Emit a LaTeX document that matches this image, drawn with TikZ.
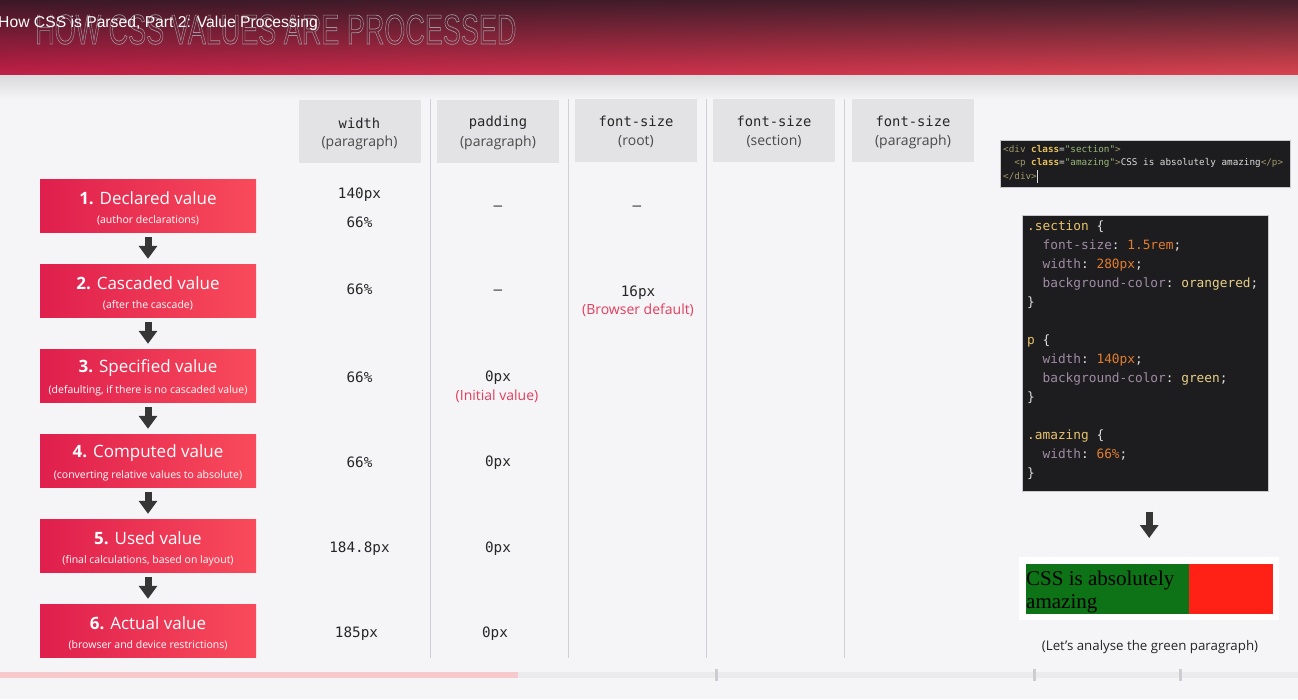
\documentclass[tikz,border=0pt]{standalone}
\usepackage{fontspec}
\setmainfont{Open Sans}
\setmonofont{DejaVu Sans Mono}
\newfontfamily\arialf{Liberation Sans}
\newfontfamily\timesf{Liberation Serif}
\usetikzlibrary{arrows.meta,shadings,fadings}

\definecolor{bg}{HTML}{F5F4F7}
\definecolor{hul}{HTML}{3A1826}
\definecolor{hur}{HTML}{46202C}
\definecolor{hll}{HTML}{C21F47}
\definecolor{hlr}{HTML}{D8434F}
\definecolor{bandtop}{HTML}{DAD9DC}
\definecolor{hdrcell}{HTML}{E3E2E5}
\definecolor{sepc}{HTML}{D0CFD3}
\definecolor{valtxt}{HTML}{262626}
\definecolor{hdrsub}{HTML}{4A4A4A}
\definecolor{redtxt}{HTML}{E33E5C}
\definecolor{boxl}{HTML}{DF1F4D}
\definecolor{boxr}{HTML}{F94B5B}
\definecolor{arrowc}{HTML}{363636}
\definecolor{codebg}{HTML}{1D1D1F}
\definecolor{codeborder}{HTML}{C8C8CC}
\definecolor{tagc}{HTML}{A09868}
\definecolor{attrc}{HTML}{E8C05C}
\definecolor{strc}{HTML}{98B878}
\definecolor{csel}{HTML}{E8C36A}
\definecolor{cprop}{HTML}{A08BA5}
\definecolor{cnum}{HTML}{E27D2F}
\definecolor{ckw}{HTML}{E9CF86}
\definecolor{cwhite}{HTML}{DDDDDD}
\definecolor{resgreen}{HTML}{0E7317}
\definecolor{resred}{HTML}{FF2116}
\definecolor{pbpink}{HTML}{F6C9CD}
\definecolor{pbgrey}{HTML}{EBEAEC}
\definecolor{tickc}{HTML}{CDCCD0}

\newcommand\outlinetext[1]{\special{pdf:literal direct 1 Tr 0.7 w 0.62 0.60 0.63 RG}#1\special{pdf:literal direct 0 Tr}}

\tikzset{
 redbox/.style={minimum width=216pt, minimum height=53.5pt, inner sep=0pt, left color=boxl, right color=boxr, draw=none},
 boxtitle/.style={inner sep=0pt, text=white, font=\fontsize{17}{20}\selectfont},
 boxsub/.style={inner sep=0pt, text=white, font=\fontsize{10.5}{12}\selectfont},
 flowarrow/.style={draw=arrowc, line width=7pt, -{Triangle[width=18pt,length=13pt]}},
 colhead/.style={fill=hdrcell, minimum width=122pt, minimum height=63pt, inner sep=0pt},
 headmono/.style={inner sep=0pt, font=\ttfamily\fontsize{13.8}{16}\selectfont, text=valtxt},
 headsans/.style={inner sep=0pt, font=\fontsize{14}{16}\selectfont, text=hdrsub},
 val/.style={inner sep=0pt, font=\ttfamily\fontsize{14.3}{16}\selectfont, text=valtxt},
 note/.style={inner sep=0pt, font=\fontsize{14}{16}\selectfont, text=redtxt},
 codeA/.style={anchor=base west, inner sep=0pt, font=\ttfamily\fontsize{9.3}{11}\selectfont, text=cwhite},
 codeB/.style={anchor=base west, inner sep=0pt, font=\ttfamily\fontsize{12.8}{15}\selectfont, text=cwhite},
 sepline/.style={draw=sepc, line width=1pt},
}

\begin{document}
\begin{tikzpicture}[x=1pt,y=-1pt]
\useasboundingbox (0,0) rectangle (1298,699);
\fill[bg] (0,0) rectangle (1298,699);

% header
\shade[upper left=hul, upper right=hur, lower left=hll, lower right=hlr] (0,0) rectangle (1298,75);
\shade[top color=bandtop, bottom color=bg] (0,75) rectangle (1298,100);
\node[anchor=base west, inner sep=0pt] (big) at (35,44) {\scalebox{0.643}[1]{\arialf\fontsize{42}{44}\selectfont\outlinetext{HOW CSS VALUES ARE PROCESSED}}};
\node[anchor=base west, inner sep=0pt, text=white, font=\arialf\fontsize{15.7}{18}\selectfont] (ttl) at (-2,27) {How CSS is Parsed, Part 2: Value Processing};

% flow boxes
\node[redbox] (b1) at (148,205.75) {};
\node[boxtitle] (t1) at (148,198) {\textbf{1.} Declared value};
\node[boxsub] (s1) at (148,220.5) {(author declarations)};
\node[redbox] (b2) at (148,290.75) {};
\node[boxtitle] (t2) at (148,283) {\textbf{2.} Cascaded value};
\node[boxsub] (s2) at (148,305.5) {(after the cascade)};
\node[redbox] (b3) at (148,375.75) {};
\node[boxtitle] (t3) at (148,368) {\textbf{3.} Specified value};
\node[boxsub] (s3) at (148,390.5) {(defaulting, if there is no cascaded value)};
\node[redbox] (b4) at (148,460.75) {};
\node[boxtitle] (t4) at (148,453) {\textbf{4.} Computed value};
\node[boxsub] (s4) at (148,475.5) {(converting relative values to absolute)};
\node[redbox] (b5) at (148,545.75) {};
\node[boxtitle] (t5) at (148,538) {\textbf{5.} Used value};
\node[boxsub] (s5) at (148,560.5) {(final calculations, based on layout)};
\node[redbox] (b6) at (148,630.75) {};
\node[boxtitle] (t6) at (148,623) {\textbf{6.} Actual value};
\node[boxsub] (s6) at (148,645.5) {(browser and device restrictions)};

\foreach \a/\b in {b1/b2,b2/b3,b3/b4,b4/b5,b5/b6}
  \draw[flowarrow, shorten <=4.5pt, shorten >=5pt] (\a.south) -- (\b.north);

% column separators
\foreach \x in {430,568,706,844}
  \draw[sepline] (\x,99) -- (\x,658);

% column headers
\node[colhead] (h1) at (359.5,131) {};
\node[colhead] (h2) at (498,131) {};
\node[colhead] (h3) at (636,130.5) {};
\node[colhead] (h4) at (774,130.5) {};
\node[colhead] (h5) at (913,130.5) {};
\node[headmono] (h1a) at (359.5,123) {width};
\node[headsans] (h1b) at (359.5,142.5) {(paragraph)};
\node[headmono] (h2a) at (498,123) {padding};
\node[headsans] (h2b) at (498,142.5) {(paragraph)};
\node[headmono] (h3a) at (636,121.5) {font-size};
\node[headsans] (h3b) at (636,141.5) {(root)};
\node[headmono] (h4a) at (774,121.5) {font-size};
\node[headsans] (h4b) at (774,141.5) {(section)};
\node[headmono] (h5a) at (913,121.5) {font-size};
\node[headsans] (h5b) at (913,141.5) {(paragraph)};

% values
\node[val] (v11) at (359.5,195) {140px};
\node[val] (v12) at (359.5,222) {66\%};
\node[val] (v2) at (359.5,289.5) {66\%};
\node[val] (v3) at (359.5,377.5) {66\%};
\node[val] (v4) at (359.5,462.5) {66\%};
\node[val] (v5) at (359.5,549) {184.8px};
\node[val] (v6) at (356.5,634) {185px};

\node[val] (p1) at (498,208) {–};
\node[val] (p2) at (498,292) {–};
\node[val] (p3) at (498,378) {0px};
\node[note] (p3n) at (497,396) {(Initial value)};
\node[val] (p4) at (498,463) {0px};
\node[val] (p5) at (498,549) {0px};
\node[val] (p6) at (495,634) {0px};

\node[val] (r1) at (637,208) {–};
\node[val] (r2) at (638,293) {16px};
\node[note] (r2n) at (638,310.5) {(Browser default)};

% html code box
\node[fill=codebg, draw=codeborder, line width=0.6pt, minimum width=290pt, minimum height=47pt, inner sep=0pt, anchor=north west] (cb1) at (1000,140) {};
\node[codeA] (ca1) at (1003,152.3) {\textcolor{tagc}{<div} \textcolor{attrc}{\bfseries class}=\textcolor{strc}{"section"}\textcolor{tagc}{>}};
\node[codeA] (ca2) at (1014.2,165.8) {\textcolor{tagc}{<p} \textcolor{attrc}{\bfseries class}=\textcolor{strc}{"amazing"}\textcolor{tagc}{>}CSS is absolutely amazing\textcolor{tagc}{</p>}};
\node[codeA] (ca3) at (1003,179.3) {\textcolor{tagc}{</div>}};
\fill[cwhite] (1036.8,170) rectangle (1037.8,182.5);

% css code box
\node[fill=codebg, draw=codeborder, line width=0.6pt, minimum width=246pt, minimum height=276pt, inner sep=0pt, anchor=north west] (cb2) at (1022,215) {};
\node[codeB] (cl0) at (1027,230.5) {\textcolor{csel}{.section} \{};
\node[codeB] (cl1) at (1042.4,249.5) {\textcolor{cprop}{font-size}: \textcolor{cnum}{1.5rem};};
\node[codeB] (cl2) at (1042.4,268.5) {\textcolor{cprop}{width}: \textcolor{cnum}{280px};};
\node[codeB] (cl3) at (1042.4,287.5) {\textcolor{cprop}{background-color}: \textcolor{ckw}{orangered};};
\node[codeB] (cl4) at (1027,306.5) {\}};
\node[codeB] (cl6) at (1027,344.5) {\textcolor{csel}{p} \{};
\node[codeB] (cl7) at (1042.4,363.5) {\textcolor{cprop}{width}: \textcolor{cnum}{140px};};
\node[codeB] (cl8) at (1042.4,382.5) {\textcolor{cprop}{background-color}: \textcolor{ckw}{green};};
\node[codeB] (cl9) at (1027,401.5) {\}};
\node[codeB] (cl11) at (1027,439.5) {\textcolor{csel}{.amazing} \{};
\node[codeB] (cl12) at (1042.4,458.5) {\textcolor{cprop}{width}: \textcolor{cnum}{66\%};};
\node[codeB] (cl13) at (1027,477.5) {\}};

% rendered result
\node[fill=white, minimum width=260pt, minimum height=63pt, inner sep=0pt, anchor=north west] (res) at (1019,557) {};
\fill[resgreen] (1026,564) rectangle (1189,614);
\fill[resred] (1189,564) rectangle (1273,614);
\node[anchor=base west, inner sep=0pt, font=\timesf\fontsize{21}{24}\selectfont, text=black] (rt1) at (1026,585) {CSS is absolutely};
\node[anchor=base west, inner sep=0pt, font=\timesf\fontsize{21}{24}\selectfont, text=black] (rt2) at (1026,608) {amazing};
\draw[flowarrow, shorten <=20pt, shorten >=19pt] (res.north |- cb2.south) -- (res.north);
\node[inner sep=0pt, font=\fontsize{13.3}{16}\selectfont, text=valtxt] (cap) at (1150,647.5) {(Let’s analyse the green paragraph)};

% progress bar
\fill[pbpink] (0,672) rectangle (518,678);
\fill[pbgrey] (518,672) rectangle (1298,678);
\foreach \x in {716,1034,1180}
  \fill[tickc] (\x-1.5,669) rectangle (\x+1.5,681);
\end{tikzpicture}
\end{document}
